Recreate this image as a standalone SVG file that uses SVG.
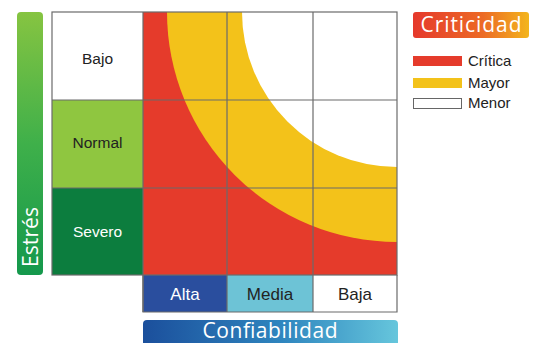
<svg xmlns="http://www.w3.org/2000/svg" width="535" height="343" viewBox="0 0 535 343">
  <defs>
    <linearGradient id="gEstres" x1="0" y1="0" x2="0" y2="1">
      <stop offset="0" stop-color="#86c441"/>
      <stop offset="0.5" stop-color="#3fb04a"/>
      <stop offset="1" stop-color="#14984c"/>
    </linearGradient>
    <linearGradient id="gConf" x1="0" y1="0" x2="1" y2="0">
      <stop offset="0" stop-color="#1b4f9c"/>
      <stop offset="0.55" stop-color="#2f86bf"/>
      <stop offset="1" stop-color="#66c6dc"/>
    </linearGradient>
    <linearGradient id="gCrit" x1="0" y1="0" x2="1" y2="0">
      <stop offset="0" stop-color="#e5392c"/>
      <stop offset="0.6" stop-color="#ec6a25"/>
      <stop offset="1" stop-color="#f3b51c"/>
    </linearGradient>
    <style>
      .grid { fill: none; stroke: #6b6b6b; stroke-width: 1.2; }
      .lbl { font-family: "Liberation Sans", Arial, sans-serif; font-size: 15.5px; text-anchor: middle; }
      .blbl { font-family: "Liberation Sans", Arial, sans-serif; font-size: 17px; text-anchor: middle; }
      .leg { font-family: "Liberation Sans", Arial, sans-serif; font-size: 15px; fill: #222; }
      .head { font-family: "Open Sans", "Noto Sans", sans-serif; font-size: 21px; fill: #fff; }
    </style>
  </defs>
  <rect width="535" height="343" fill="#fff"/>

  <!-- Estrés axis bar -->
  <g id="estres">
    <rect x="17" y="12" width="26" height="263" rx="4" fill="url(#gEstres)"/>
    <text class="head" text-anchor="middle" textLength="60" transform="translate(37.5,237) rotate(-90)">Estrés</text>
  </g>

  <!-- Row labels -->
  <g id="row-bajo">
    <rect x="52" y="12" width="91" height="88" fill="#ffffff"/>
    <text class="lbl" x="97.5" y="64" fill="#222">Bajo</text>
  </g>
  <g id="row-normal">
    <rect x="52" y="100" width="91" height="88" fill="#8fc640"/>
    <text class="lbl" x="97.5" y="148" fill="#222">Normal</text>
  </g>
  <g id="row-severo">
    <rect x="52" y="188" width="91" height="87" fill="#0c7d3e"/>
    <text class="lbl" x="97.5" y="237" fill="#fff">Severo</text>
  </g>

  <!-- Matrix -->
  <g id="matrix">
    <rect x="143" y="12" width="254" height="263" fill="#e53b2b"/>
    <path d="M167,12 A230,230 0 0 0 397,242 L397,12 Z" fill="#f3c21a"/>
    <path d="M242,12 A155,155 0 0 0 397,167 L397,12 Z" fill="#ffffff"/>
  </g>

  <!-- Column labels -->
  <g id="col-alta">
    <rect x="143" y="275" width="84" height="37" fill="#2a4e9e"/>
    <text class="blbl" x="185" y="300" fill="#fff">Alta</text>
  </g>
  <g id="col-media">
    <rect x="227" y="275" width="86" height="37" fill="#6dc3d6"/>
    <text class="blbl" x="270" y="300" fill="#222">Media</text>
  </g>
  <g id="col-baja">
    <rect x="313" y="275" width="84" height="37" fill="#ffffff"/>
    <text class="blbl" x="355" y="300" fill="#222">Baja</text>
  </g>

  <!-- Grid lines -->
  <g id="connectors">
    <rect class="grid" x="52" y="12" width="345" height="263"/>
    <line class="grid" x1="143" y1="12" x2="143" y2="312"/>
    <line class="grid" x1="227" y1="12" x2="227" y2="312"/>
    <line class="grid" x1="313" y1="12" x2="313" y2="312"/>
    <line class="grid" x1="52" y1="100" x2="397" y2="100"/>
    <line class="grid" x1="52" y1="188" x2="397" y2="188"/>
    <path class="grid" d="M143,275 V312 H397 V275"/>
  </g>

  <!-- Confiabilidad axis bar -->
  <g id="confiabilidad">
    <rect x="143" y="320" width="255" height="30" rx="4" fill="url(#gConf)"/>
    <text class="head" x="270" y="338" text-anchor="middle" textLength="135">Confiabilidad</text>
  </g>

  <!-- Legend -->
  <g id="legend">
    <rect x="413" y="12" width="116" height="26" rx="3" fill="url(#gCrit)"/>
    <text class="head" x="471" y="32" text-anchor="middle" textLength="101">Criticidad</text>
    <rect x="413" y="56" width="49" height="10" fill="#e53b2b"/>
    <text class="leg" x="468" y="66">Crítica</text>
    <rect x="413" y="78" width="49" height="10" fill="#f3c21a"/>
    <text class="leg" x="468" y="88">Mayor</text>
    <rect x="413.5" y="98.5" width="48" height="10" fill="#fff" stroke="#666" stroke-width="1"/>
    <text class="leg" x="468" y="108">Menor</text>
  </g>
</svg>
